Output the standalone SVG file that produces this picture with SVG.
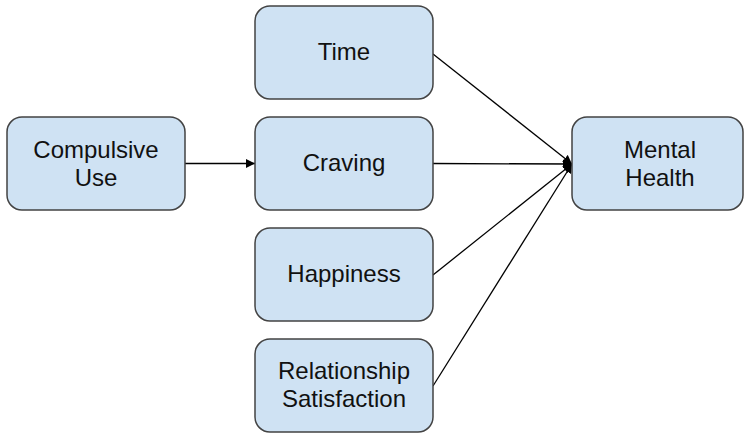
<svg xmlns="http://www.w3.org/2000/svg" width="745" height="433" viewBox="0 0 745 433">
<style>
.box{fill:#cfe2f3;stroke:#434343;stroke-width:1.5}
.t{font-family:"Liberation Sans",Arial,sans-serif;font-size:24px;fill:#111;text-anchor:middle}
.c{stroke:#000;stroke-width:1.3;fill:none}
</style>
<defs>
<marker id="ah" viewBox="0 0 10 10" refX="10" refY="5" markerWidth="9" markerHeight="9" markerUnits="userSpaceOnUse" orient="auto">
<path d="M0,0 L10,5 L0,10 z" fill="#000"/>
</marker>
</defs>
<rect width="745" height="433" fill="#fff"/>
<g id="connectors">
<line class="c" x1="185" y1="163.5" x2="255" y2="163.5" marker-end="url(#ah)"/>
<line class="c" x1="433" y1="54" x2="572" y2="164" marker-end="url(#ah)"/>
<line class="c" x1="433" y1="163.5" x2="572" y2="164" marker-end="url(#ah)"/>
<line class="c" x1="433" y1="275" x2="572" y2="164" marker-end="url(#ah)"/>
<line class="c" x1="433" y1="386" x2="572" y2="164" marker-end="url(#ah)"/>
</g>
<g id="compulsive-use">
<rect class="box" x="7" y="117" width="178" height="93" rx="15"/>
<text class="t" x="96" y="157.5">Compulsive</text>
<text class="t" x="96" y="185.5">Use</text>
</g>
<g id="time">
<rect class="box" x="255" y="6" width="178" height="93" rx="15"/>
<text class="t" x="344" y="59.5">Time</text>
</g>
<g id="craving">
<rect class="box" x="255" y="117" width="178" height="93" rx="15"/>
<text class="t" x="344" y="170.5">Craving</text>
</g>
<g id="happiness">
<rect class="box" x="255" y="228" width="178" height="93" rx="15"/>
<text class="t" x="344" y="282">Happiness</text>
</g>
<g id="relationship-satisfaction">
<rect class="box" x="255" y="339" width="178" height="93" rx="15"/>
<text class="t" x="344" y="379">Relationship</text>
<text class="t" x="344" y="407">Satisfaction</text>
</g>
<g id="mental-health">
<rect class="box" x="572" y="117" width="171" height="93" rx="15"/>
<text class="t" x="660" y="157.5">Mental</text>
<text class="t" x="660" y="185.5">Health</text>
</g>
</svg>
